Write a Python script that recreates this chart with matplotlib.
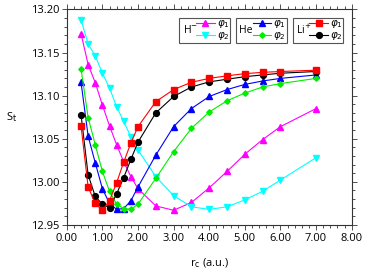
import matplotlib.pyplot as plt
import matplotlib.patches as mpatches
from matplotlib.legend import Legend
from matplotlib.ticker import MultipleLocator, FormatStrFormatter

plt.rcParams['font.family'] = ['Open Sans', 'DejaVu Sans']
plt.rcParams['mathtext.fontset'] = 'dejavusans'

# data
rc = [0.4, 0.6, 0.8, 1.0, 1.2, 1.4, 1.6, 1.8, 2.0, 2.5, 3.0, 3.5, 4.0, 4.5, 5.0, 5.5, 6.0, 7.0]

h_phi1 = [13.172, 13.136, 13.115, 13.089, 13.065, 13.043, 13.023, 13.006, 12.992,
          12.972, 12.967, 12.976, 12.993, 13.012, 13.032, 13.049, 13.064, 13.085]
h_phi2 = [13.188, 13.160, 13.146, 13.126, 13.109, 13.087, 13.070, 13.052, 13.037,
          13.006, 12.984, 12.971, 12.968, 12.971, 12.979, 12.989, 13.002, 13.028]
he_phi1 = [13.1155, 13.053, 13.022, 12.992, 12.975, 12.968, 12.969, 12.978, 12.994,
           13.031, 13.064, 13.085, 13.099, 13.107, 13.113, 13.117, 13.120, 13.124]
he_phi2 = [13.131, 13.0745, 13.043, 13.012, 12.989, 12.974, 12.969, 12.968, 12.974,
           13.004, 13.035, 13.062, 13.081, 13.094, 13.103, 13.110, 13.114, 13.120]
li_phi1 = [13.065, 12.994, 12.975, 12.967, 12.978, 12.999, 13.023, 13.045, 13.064,
           13.093, 13.107, 13.1155, 13.120, 13.123, 13.1255, 13.127, 13.128, 13.1295]
li_phi2 = [13.078, 13.008, 12.983, 12.974, 12.970, 12.986, 13.005, 13.026, 13.046,
           13.080, 13.099, 13.110, 13.116, 13.119, 13.122, 13.124, 13.126, 13.128]

fig = plt.figure(figsize=(3.86, 2.78), dpi=100)
ax = fig.add_axes([0.173, 0.191, 0.738, 0.775])

lw = 0.8
l_h1, = ax.plot(rc, h_phi1, color='#ff00ff', marker='^', ms=4, lw=lw)
l_h2, = ax.plot(rc, h_phi2, color='#00ffff', marker='v', ms=4, lw=lw)
l_he1, = ax.plot(rc, he_phi1, color='#0000ff', marker='^', ms=4, lw=lw)
l_he2, = ax.plot(rc, he_phi2, color='#00ee00', marker='D', ms=2.8, lw=lw)
l_li2, = ax.plot(rc, li_phi2, color='black', marker='o', ms=4.2, lw=lw)
l_li1, = ax.plot(rc, li_phi1, color='#ff0000', marker='s', ms=4.3, lw=lw)

# axes
ax.set_xlim(0, 8)
ax.set_ylim(12.95, 13.20)
ax.xaxis.set_major_locator(MultipleLocator(1))
ax.xaxis.set_minor_locator(MultipleLocator(0.2))
ax.yaxis.set_major_locator(MultipleLocator(0.05))
ax.yaxis.set_minor_locator(MultipleLocator(0.01))
ax.xaxis.set_major_formatter(FormatStrFormatter('%.2f'))
ax.yaxis.set_major_formatter(FormatStrFormatter('%.2f'))
ax.tick_params(which='both', direction='out', top=True, right=True, labelsize=8,
               width=0.6, color='#333333', pad=2)
ax.tick_params(which='major', length=3.5)
ax.tick_params(which='minor', length=2)
for s in ax.spines.values():
    s.set_linewidth(0.8)
    s.set_color('#333333')

ax.set_xlabel('r$_\\mathrm{c}$ (a.u.)', fontsize=8, labelpad=9)
ax.set_ylabel('S$_\\mathrm{t}$', fontsize=8, rotation=0, labelpad=14, va='center')

# grouped legends
groups = [('H$^{-}$', l_h1, l_h2, 0.395, 0.573),
          ('He', l_he1, l_he2, 0.594, 0.772),
          ('Li$^{+}$', l_li1, l_li2, 0.793, 0.971)]
for name, a, b, x0, x1 in groups:
    box = mpatches.Rectangle((x0, 0.846), x1 - x0, 0.113, transform=ax.transAxes,
                             fill=True, facecolor='white', edgecolor='#555555',
                             lw=0.8, zorder=5)
    ax.add_patch(box)
    ax.text(x0 + 0.012, 0.9025, name, transform=ax.transAxes, fontsize=7.5,
            va='center', ha='left', zorder=6)
    leg = Legend(ax, [a, b], ['$\\varphi_1$', '$\\varphi_2$'], loc='center left',
                 bbox_to_anchor=(x0 + 0.058, 0.9025), frameon=False,
                 fontsize=7.5, handlelength=1.8, handletextpad=0.2,
                 labelspacing=0.0, borderpad=0, borderaxespad=0, numpoints=1)
    leg.set_zorder(7)
    ax.add_artist(leg)

fig.savefig('out.png', dpi=100)
